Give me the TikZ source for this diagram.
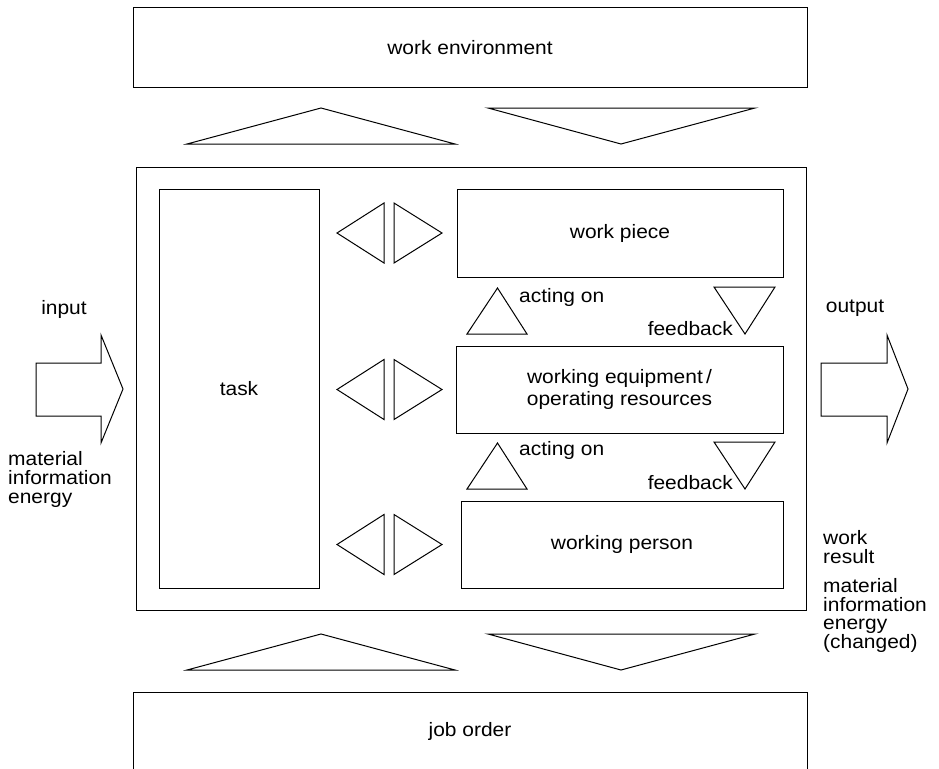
\documentclass[tikz,border=0pt]{standalone}
\usepackage{fontspec}
\setmainfont{Liberation Sans}[FakeStretch=1.08]
\begin{document}
\begin{tikzpicture}[x=1pt,y=-1pt,
  txt/.style={font=\fontsize{19.4}{22}\selectfont},
  box/.style={draw, line width=1pt, inner sep=0pt, align=center, txt},
  shapeline/.style={draw, line width=1pt, line join=miter},
  caption/.style={inner sep=0pt, align=left, font=\fontsize{19.4}{18.6}\selectfont}]
\useasboundingbox (0,0) rectangle (939,768);
\fill[white] (0,0) rectangle (939,768);

% outer frame and surroundings
\node[box, minimum width=674, minimum height=79] (env) at (470,47.5) {work environment};
\node[box, minimum width=670, minimum height=443] (sys) at (471,388.5) {};
\node[box, minimum width=674, minimum height=79] (job) at (470,731.5) {job order};

% elements of the work system
\node[box, minimum width=160, minimum height=399] (task) at (239,388.5) {task};
\node[box, minimum width=326, minimum height=88] (piece) at (620,233) {work piece};
\node[box, minimum width=327, minimum height=87] (equip) at (619.5,389.5) {working equipment\,/\\operating resources};
\node[box, minimum width=322, minimum height=87] (person) at (622,544.5) {working person};

% exchange with the work environment
\draw[shapeline] (187,144) -- (321,108) -- (455,144) -- cycle;
\draw[shapeline] (488,108) -- (621,144) -- (755,108) -- cycle;
% exchange with the job order
\draw[shapeline] (187,670) -- (321,634) -- (455,670) -- cycle;
\draw[shapeline] (488,634) -- (621,670) -- (755,634) -- cycle;

% task <-> elements
\foreach \cy in {233,389.5,544.5} {
  \draw[shapeline] (384,{\cy-30}) -- (337,\cy) -- (384,{\cy+30}) -- cycle;
  \draw[shapeline] (394,{\cy-30}) -- (442,\cy) -- (394,{\cy+30}) -- cycle;
}

% acting on / feedback between the elements
\foreach \ty in {288,443} {
  \draw[shapeline] (467,{\ty+46}) -- (497.5,\ty) -- (527,{\ty+46}) -- cycle;
  \draw[shapeline] (714,{\ty-1}) -- (775,{\ty-1}) -- (745,{\ty+46}) -- cycle;
}
\node[caption, anchor=west] (act1) at (519,297) {acting on};
\node[caption, anchor=west] (act2) at (519,450) {acting on};
\node[caption, anchor=east] (fb1) at (733,329) {feedback};
\node[caption, anchor=east] (fb2) at (733,483) {feedback};

% input and output
\draw[shapeline] (36,363) -- (101,363) -- (101,335) -- (123,389) -- (101,443) -- (101,416) -- (36,416) -- cycle;
\draw[shapeline] (821,363) -- (887,363) -- (887,335) -- (908,389) -- (887,443) -- (887,416) -- (821,416) -- cycle;
\node[caption] (inlbl) at (64,309) {input};
\node[caption] (outlbl) at (855,308) {output};
\node[caption, anchor=west] (inflow) at (8,479.5) {material\\information\\energy};
\node[caption, anchor=west] (result) at (823,547) {work\\result};
\node[caption, anchor=west] (outflow) at (823,615.5) {material\\information\\energy\\(changed)};
\end{tikzpicture}
\end{document}
